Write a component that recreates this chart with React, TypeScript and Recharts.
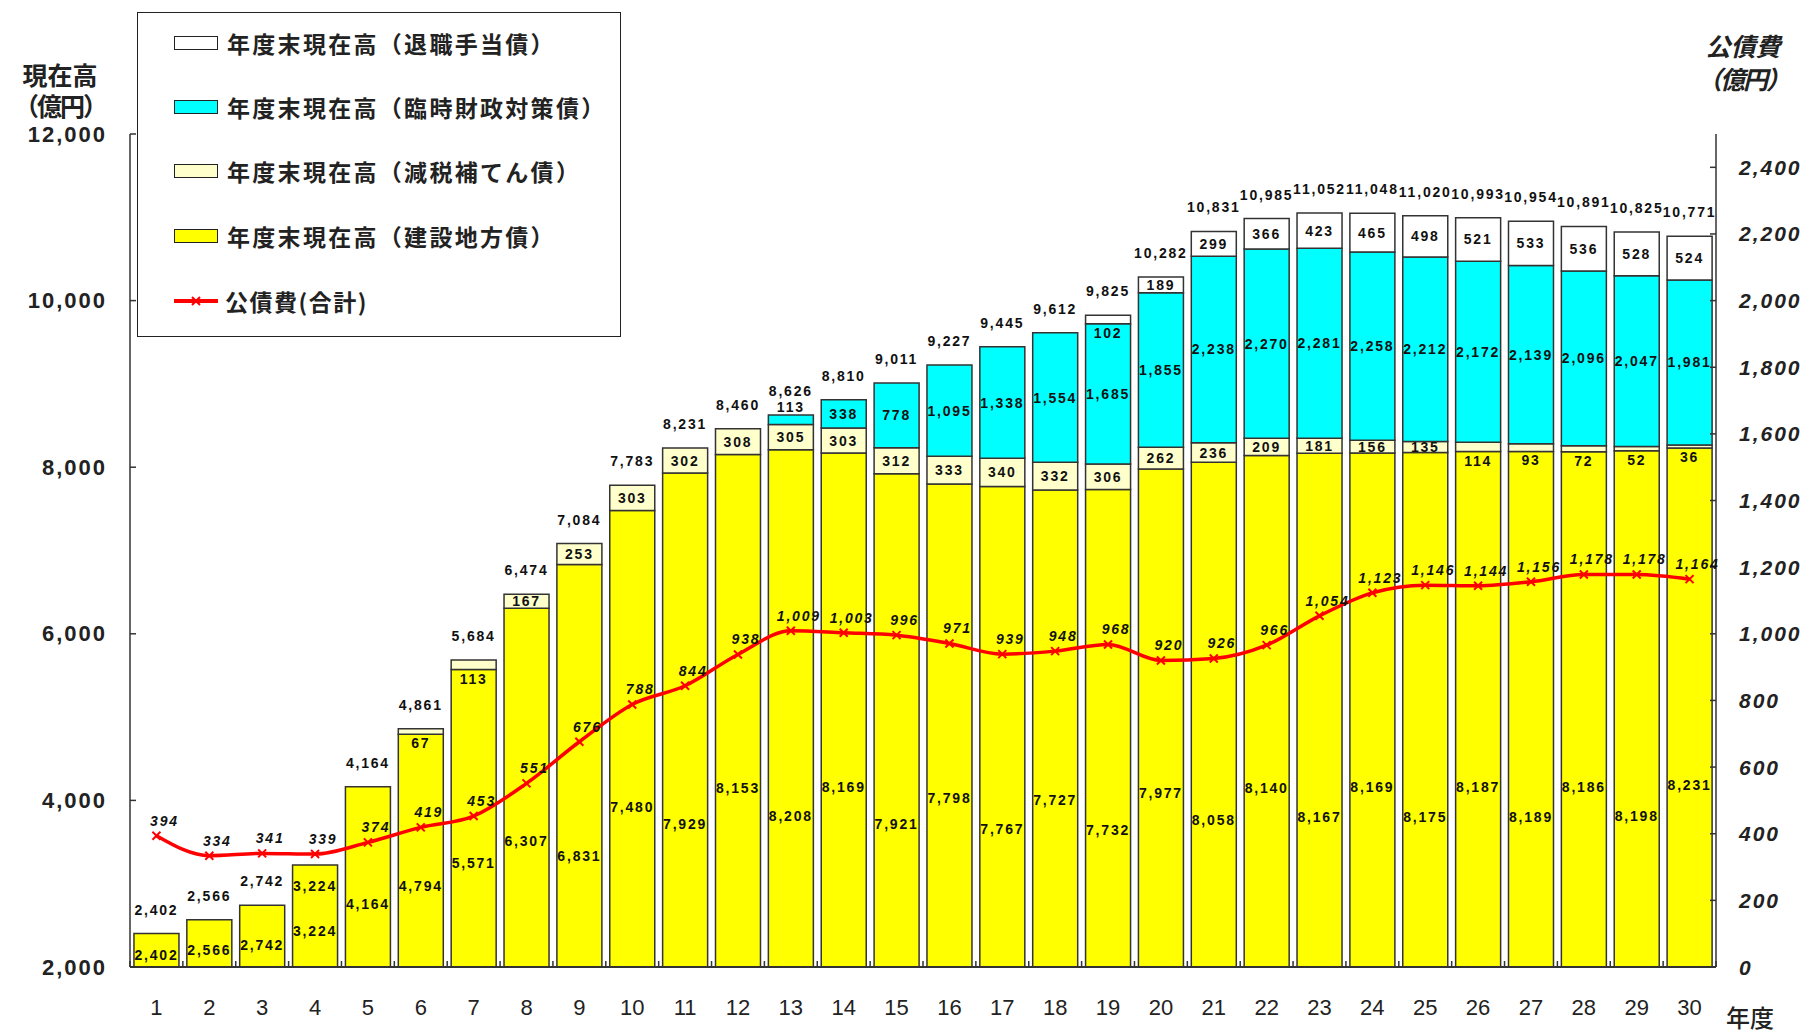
import React from "react";
import { ComposedChart, Bar, Line, XAxis, YAxis, LabelList, Legend } from "recharts";

// 年度
const years = [
  "1", "2", "3", "4", "5", "6", "7", "8", "9", "10",
  "11", "12", "13", "14", "15", "16", "17", "18", "19", "20",
  "21", "22", "23", "24", "25", "26", "27", "28", "29", "30",
];

// 年度末現在高（建設地方債）
const kensetsu = [
  2402, 2566, 2742, 3224, 4164, 4794, 5571, 6307, 6831, 7480,
  7929, 8153, 8208, 8169, 7921, 7798, 7767, 7727, 7732, 7977,
  8058, 8140, 8167, 8169, 8175, 8187, 8189, 8186, 8198, 8231,
];

// 年度末現在高（減税補てん債）
const genzei = [
  0, 0, 0, 0, 0, 67, 113, 167, 253, 303,
  302, 308, 305, 303, 312, 333, 340, 332, 306, 262,
  236, 209, 181, 156, 135, 114, 93, 72, 52, 36,
];

// 年度末現在高（臨時財政対策債）
const rinji = [
  0, 0, 0, 0, 0, 0, 0, 0, 0, 0,
  0, 0, 113, 338, 778, 1095, 1338, 1554, 1685, 1855,
  2238, 2270, 2281, 2258, 2212, 2172, 2139, 2096, 2047, 1981,
];

// 年度末現在高（退職手当債）
const taishoku = [
  0, 0, 0, 0, 0, 0, 0, 0, 0, 0,
  0, 0, 0, 0, 0, 0, 0, 0, 102, 189,
  299, 366, 423, 465, 498, 521, 533, 536, 528, 524,
];

// 年度末現在高 合計
const totals = [
  2402, 2566, 2742, 3224, 4164, 4861, 5684, 6474, 7084, 7783,
  8231, 8460, 8626, 8810, 9011, 9227, 9445, 9612, 9825, 10282,
  10831, 10985, 11052, 11048, 11020, 10993, 10954, 10891, 10825, 10771,
];

// 公債費（合計）
const kosaihi = [
  394, 334, 341, 339, 374, 419, 453, 551, 676, 788,
  844, 938, 1009, 1003, 996, 971, 939, 948, 968, 920,
  926, 966, 1054, 1123, 1146, 1144, 1156, 1178, 1178, 1164,
];

const leftTicks = [2000, 4000, 6000, 8000, 10000, 12000];
const rightTicks = [0, 200, 400, 600, 800, 1000, 1200, 1400, 1600, 1800, 2000, 2200, 2400];
const RIGHT_MAX = 2500;

const W = 1809;
const H = 1034;
const PLOT_LEFT = 130;
const PLOT_RIGHT = 1716;
const PLOT_TOP = 134;
const PLOT_BOTTOM = 967;
const BAND = (PLOT_RIGHT - PLOT_LEFT) / years.length;

const numFont = "'Liberation Sans', Arial, sans-serif";
const jpFont = "'Noto Sans CJK JP', 'Noto Sans', sans-serif";
const AXIS = "#333";

const fmt = (v: number) => v.toLocaleString("en-US");

const chartData = years.map((year, i) => ({
  year,
  kensetsu: kensetsu[i],
  genzei: genzei[i],
  rinji: rinji[i],
  taishoku: taishoku[i],
  total: totals[i],
  kosaihi: kosaihi[i],
}));

const legendItems = [
  { label: "年度末現在高（退職手当債）", color: "#FFFFFF" },
  { label: "年度末現在高（臨時財政対策債）", color: "#00FFFF" },
  { label: "年度末現在高（減税補てん債）", color: "#FFFFCC" },
  { label: "年度末現在高（建設地方債）", color: "#FFFF00" },
];

const segText = (cx: number, cy: number, value: number, italic = false) => (
  <text
    x={cx}
    y={cy}
    textAnchor="middle"
    dominantBaseline="central"
    fontSize={14}
    fontWeight="bold"
    fontStyle={italic ? "italic" : "normal"}
    letterSpacing={1.8}
    fill="#111"
    fontFamily={numFont}
  >
    {fmt(value)}
  </text>
);

const boxOf = (props: any) => {
  const vb = props.viewBox ?? props;
  const top = Math.min(vb.y, vb.y + vb.height);
  const bottom = Math.max(vb.y, vb.y + vb.height);
  return { cx: vb.x + vb.width / 2, top, bottom };
};

const indexAt = (cx: number) => Math.floor((cx - PLOT_LEFT) / BAND);

// labels of thin segments are pushed off the segment
const segLabel = (small: "below" | "above") => (props: any) => {
  if (!props.value) return null;
  const { cx, top, bottom } = boxOf(props);
  let cy = (top + bottom) / 2;
  if (bottom - top < 10) cy = small === "below" ? bottom + 9 : top - 8;
  return segText(cx, cy, props.value);
};

const baseLabel = (props: any) => {
  if (!props.value) return null;
  const { cx, top } = boxOf(props);
  const year = indexAt(cx) + 1;
  const vis = PLOT_BOTTOM - top;
  const shift = year % 2 === 1 && year >= 9 ? 30 : 0;
  return segText(cx, PLOT_BOTTOM - vis * 0.35 + shift, props.value);
};

const totalLabel = (props: any) => {
  const { x, y, value } = props;
  if (x == null || y == null) return null;
  const i = indexAt(x);
  // where the 公債費 label sits, to keep the two apart
  const lineLabelY = PLOT_BOTTOM - (kosaihi[i] / RIGHT_MAX) * (PLOT_BOTTOM - PLOT_TOP) - 15;
  let cy = y - 24;
  if (Math.abs(cy - lineLabelY) < 16) cy = y + 21;
  return segText(x, cy, value);
};

const kosaihiLabel = (props: any) => {
  const { x, y, value } = props;
  if (x == null || y == null) return null;
  return segText(x + 8, y - 15, value, true);
};

const CrossDot = (props: any) => {
  const { cx, cy, index } = props;
  if (cx == null || cy == null) return null;
  const s = 4;
  return (
    <path
      key={`dot-${index}`}
      d={`M${cx - s},${cy - s}L${cx + s},${cy + s}M${cx - s},${cy + s}L${cx + s},${cy - s}`}
      stroke="#FF0000"
      strokeWidth={2}
      fill="none"
    />
  );
};

const XTick = (props: any) => {
  const { x, payload } = props;
  const left = x - BAND / 2;
  const last = payload.index === years.length - 1;
  return (
    <g>
      <line x1={left} x2={left} y1={PLOT_BOTTOM - 6} y2={PLOT_BOTTOM} stroke={AXIS} strokeWidth={1.5} />
      {last && (
        <line x1={x + BAND / 2} x2={x + BAND / 2} y1={PLOT_BOTTOM - 6} y2={PLOT_BOTTOM} stroke={AXIS} strokeWidth={1.5} />
      )}
      <text x={x} y={1007} textAnchor="middle" dominantBaseline="central" fontSize={22} fill="#222" fontFamily={numFont}>
        {payload.value}
      </text>
    </g>
  );
};

const LeftTick = (props: any) => {
  const { y, payload } = props;
  return (
    <g>
      <line x1={PLOT_LEFT} x2={PLOT_LEFT + 6} y1={y} y2={y} stroke={AXIS} strokeWidth={1.5} />
      <text
        x={107}
        y={y}
        textAnchor="end"
        dominantBaseline="central"
        fontSize={22}
        fontWeight="bold"
        letterSpacing={2}
        fill="#222"
        fontFamily={numFont}
      >
        {fmt(payload.value)}
      </text>
    </g>
  );
};

const RightTick = (props: any) => {
  const { y, payload } = props;
  return (
    <g>
      <line x1={PLOT_RIGHT - 6} x2={PLOT_RIGHT} y1={y} y2={y} stroke={AXIS} strokeWidth={1.5} />
      <text
        x={1739}
        y={y}
        textAnchor="start"
        dominantBaseline="central"
        fontSize={21}
        fontWeight="bold"
        fontStyle="italic"
        letterSpacing={2}
        fill="#222"
        fontFamily={numFont}
      >
        {fmt(payload.value)}
      </text>
    </g>
  );
};

const LegendBox = () => {
  const rowY = [30, 94, 158, 223, 288];
  return (
    <div
      style={{
        position: "relative",
        width: 484,
        height: 325,
        boxSizing: "border-box",
        border: "1.5px solid #222",
        background: "#fff",
        fontFamily: jpFont,
      }}
    >
      {legendItems.map((item, i) => (
        <div key={item.label} style={{ position: "absolute", left: 36, top: rowY[i] - 16, height: 32, display: "flex", alignItems: "center" }}>
          <div style={{ width: 42, height: 12, background: item.color, border: "1.5px solid #222" }} />
          <span style={{ marginLeft: 9, fontSize: 23, fontWeight: 700, color: "#222", letterSpacing: 2.3, whiteSpace: "nowrap" }}>
            {item.label}
          </span>
        </div>
      ))}
      <div style={{ position: "absolute", left: 34, top: rowY[4] - 16, height: 32, display: "flex", alignItems: "center" }}>
        <svg width={48} height={14}>
          <line x1={2} x2={46} y1={7} y2={7} stroke="#FF0000" strokeWidth={4} />
          <path d="M20,3L28,11M20,11L28,3" stroke="#FF0000" strokeWidth={2} />
        </svg>
        <span style={{ marginLeft: 5, fontSize: 23, fontWeight: 700, color: "#222", letterSpacing: 1.5, whiteSpace: "nowrap" }}>
          公債費(合計)
        </span>
      </div>
    </div>
  );
};

const titleStyle: React.CSSProperties = {
  position: "absolute",
  fontFamily: jpFont,
  fontWeight: 700,
  color: "#222",
  textAlign: "center",
  whiteSpace: "nowrap",
  width: 110,
  fontSize: 25,
  lineHeight: "25px",
  height: 25,
};

export default function App() {
  return (
    <div style={{ position: "absolute", left: 0, top: 0, width: W, height: H, background: "#fff", overflow: "hidden" }}>
      <ComposedChart
        width={W}
        height={H}
        data={chartData}
        margin={{ top: PLOT_TOP, right: 0, bottom: 0, left: 0 }}
        barCategoryGap="7.5%"
      >
        <XAxis
          dataKey="year"
          height={H - PLOT_BOTTOM}
          interval={0}
          tickLine={false}
          tick={XTick}
          axisLine={{ stroke: AXIS, strokeWidth: 2 }}
        />
        <YAxis
          yAxisId="left"
          width={PLOT_LEFT}
          domain={[2000, 12000]}
          ticks={leftTicks}
          allowDataOverflow
          tickLine={false}
          tick={LeftTick}
          axisLine={{ stroke: AXIS, strokeWidth: 1.5 }}
        />
        <YAxis
          yAxisId="right"
          orientation="right"
          width={W - PLOT_RIGHT}
          domain={[0, RIGHT_MAX]}
          ticks={rightTicks}
          allowDataOverflow
          tickLine={false}
          tick={RightTick}
          axisLine={{ stroke: AXIS, strokeWidth: 1.5 }}
        />
        <Bar yAxisId="left" dataKey="kensetsu" stackId="a" fill="#FFFF00" stroke={AXIS} strokeWidth={1.5} isAnimationActive={false}>
          <LabelList dataKey="kensetsu" content={baseLabel} />
        </Bar>
        <Bar yAxisId="left" dataKey="genzei" stackId="a" fill="#FFFFCC" stroke={AXIS} strokeWidth={1.5} isAnimationActive={false}>
          <LabelList dataKey="genzei" content={segLabel("below")} />
        </Bar>
        <Bar yAxisId="left" dataKey="rinji" stackId="a" fill="#00FFFF" stroke={AXIS} strokeWidth={1.5} isAnimationActive={false}>
          <LabelList dataKey="rinji" content={segLabel("above")} />
        </Bar>
        <Bar yAxisId="left" dataKey="taishoku" stackId="a" fill="#FFFFFF" stroke={AXIS} strokeWidth={1.5} isAnimationActive={false}>
          <LabelList dataKey="taishoku" content={segLabel("below")} />
        </Bar>
        <Line
          yAxisId="left"
          dataKey="total"
          stroke="none"
          dot={false}
          activeDot={false}
          legendType="none"
          isAnimationActive={false}
        >
          <LabelList dataKey="total" content={totalLabel} />
        </Line>
        <Line
          yAxisId="right"
          dataKey="kosaihi"
          type="monotone"
          stroke="#FF0000"
          strokeWidth={3.5}
          dot={CrossDot}
          activeDot={false}
          isAnimationActive={false}
        >
          <LabelList dataKey="kosaihi" content={kosaihiLabel} />
        </Line>
        <Legend
          layout="vertical"
          align="center"
          verticalAlign="middle"
          content={() => <LegendBox />}
          wrapperStyle={{ left: 137, top: 12, width: 484, height: 325 }}
        />
      </ComposedChart>

      <div style={{ ...titleStyle, left: 5, top: 62 }}>現在高</div>
      <div style={{ ...titleStyle, left: 5, top: 93, letterSpacing: -2 }}>（億円）</div>
      <div style={{ ...titleStyle, left: 1688, top: 33, fontStyle: "italic" }}>公債費</div>
      <div style={{ ...titleStyle, left: 1688, top: 66, fontStyle: "italic", letterSpacing: -2 }}>（億円）</div>
      <div style={{ ...titleStyle, left: 1700, top: 1004, width: 100, fontSize: 24, lineHeight: "26px", height: 26, fontWeight: 500 }}>
        年度
      </div>
    </div>
  );
}
